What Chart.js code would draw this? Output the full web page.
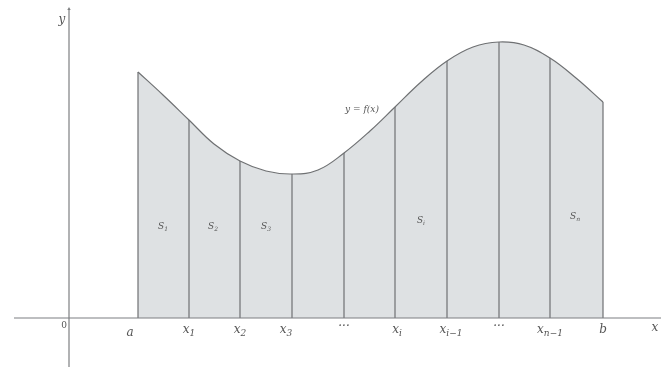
<!DOCTYPE html>
<html>
<head>
  <title>Area under y = f(x) split into strips</title>
  <script src="https://cdn.jsdelivr.net/npm/chart.js"></script>
  <style>
    body { margin: 0; background: #fff; }
  </style>
</head>
<body>
  <canvas id="myChart" width="661" height="367"></canvas>

  <script>
    // curve y = f(x) (origin at the axes crossing)
    const curveX = [69, 94, 120, 145, 171, 197, 223, 249, 275, 301, 326, 352, 378, 404, 430, 455, 481, 507, 534];
    const curveY = [246, 223, 198, 174, 157, 147, 144, 148, 165, 187, 211, 236, 257, 271, 276, 273, 260, 240, 216];

    // strip boundaries a, x1, ..., b and their heights
    const stripX = [69, 120, 171, 223, 275, 326, 378, 430, 481, 534];
    const stripH = [246, 198, 157, 144, 165, 211, 257, 276, 260, 216];

    // labels under the x axis: [main, subscript]
    const tickLabels = [['a', ''], ['x', '1'], ['x', '2'], ['x', '3'], ['\u00b7\u00b7\u00b7', ''],
                        ['x', 'i'], ['x', 'i\u22121'], ['\u00b7\u00b7\u00b7', ''], ['x', 'n\u22121'], ['b', '']];
    const tickOffset = [-8, 0, 0, -6, 0, 2, 4, 0, 0, 0];

    // strip names: [main, subscript, x, y]
    const stripLabels = [['S', '1', 94, 91], ['S', '2', 144, 91], ['S', '3', 197, 91],
                         ['S', 'i', 352, 97], ['S', 'n', 506, 101]];

    const grey = '#6f7173';
    const fillGrey = '#dee1e3';

    let lineData = [];
    for (let i = 0; i < stripX.length; i++) {
      lineData.push({ x: stripX[i], y: 0 });
      lineData.push({ x: stripX[i], y: stripH[i] });
      lineData.push({ x: stripX[i], y: null });
    }

    let curveData = curveX.map((x, i) => ({ x: x, y: curveY[i] }));

    function drawSub(ctx, main, sub, px, py, size, style) {
      style = style === undefined ? 'italic ' : style;
      ctx.font = style + size + 'px "DejaVu Serif", serif';
      let w1 = ctx.measureText(main).width;
      ctx.font = style + Math.round(size * 0.72) + 'px "DejaVu Serif", serif';
      let w2 = sub ? ctx.measureText(sub).width : 0;
      let left = px - (w1 + w2) / 2;
      ctx.font = style + size + 'px "DejaVu Serif", serif';
      ctx.fillText(main, left, py);
      if (sub) {
        ctx.font = style + Math.round(size * 0.72) + 'px "DejaVu Serif", serif';
        ctx.fillText(sub, left + w1, py + size * 0.3);
      }
    }

    const labelPlugin = {
      id: 'labels',
      afterDatasetsDraw(chart) {
        const ctx = chart.ctx;
        const sx = chart.scales.x, sy = chart.scales.y;
        ctx.save();
        ctx.fillStyle = '#555';
        ctx.textBaseline = 'middle';
        ctx.textAlign = 'left';
        const base = sy.getPixelForValue(-12);
        for (let i = 0; i < stripX.length; i++) {
          let px = sx.getPixelForValue(stripX[i]) + tickOffset[i];
          let py = tickLabels[i][0] === 'a' ? base + 3 : (tickLabels[i][0].length > 1 ? base - 3 : base);
          drawSub(ctx, tickLabels[i][0], tickLabels[i][1], px, py, 12);
        }
        stripLabels.forEach(s => {
          drawSub(ctx, s[0], s[1], sx.getPixelForValue(s[2]), sy.getPixelForValue(s[3]), 9);
        });
        drawSub(ctx, 'y = f(x)', '', sx.getPixelForValue(293), sy.getPixelForValue(208), 9);
        drawSub(ctx, '0', '', sx.getPixelForValue(-5), sy.getPixelForValue(-8), 9, '');
        drawSub(ctx, 'x', '', sx.getPixelForValue(586), sy.getPixelForValue(-10), 12);
        drawSub(ctx, 'y', '', sx.getPixelForValue(-7), sy.getPixelForValue(298), 12);
        ctx.restore();
      }
    };

    let ctx = document.getElementById('myChart').getContext('2d');
    let myChart = new Chart(ctx, {
      type: 'line',
      data: {
        datasets: [
          {
            label: 'f(x)',
            data: curveData,
            borderColor: grey,
            borderWidth: 1.2,
            backgroundColor: fillGrey,
            fill: 'origin',
            tension: 0.4,
            pointRadius: 0,
            order: 3
          },
          {
            label: 'strips',
            data: lineData,
            borderColor: grey,
            borderWidth: 1.2,
            pointRadius: 0,
            spanGaps: false,
            fill: false,
            order: 2
          },
          {
            label: 'x axis',
            data: [{ x: -55, y: 0 }, { x: 592, y: 0 }],
            borderColor: '#7d7f81',
            borderWidth: 1.2,
            pointRadius: 0,
            fill: false,
            order: 1
          },
          {
            label: 'y axis',
            data: [{ x: 0, y: -49 }, { x: 0, y: 309 }],
            borderColor: '#7d7f81',
            borderWidth: 1.2,
            pointRadius: [0, 2],
            pointStyle: 'triangle',
            pointBackgroundColor: '#7d7f81',
            pointBorderWidth: 0,
            fill: false,
            order: 1
          }
        ]
      },
      options: {
        responsive: false,
        animation: false,
        layout: { padding: 0, autoPadding: false },
        plugins: { legend: { display: false }, tooltip: { enabled: false } },
        scales: {
          x: { type: 'linear', min: -69, max: 592, display: false },
          y: { type: 'linear', min: -49, max: 318, display: false }
        }
      },
      plugins: [labelPlugin]
    });
  </script>
</body>
</html>
